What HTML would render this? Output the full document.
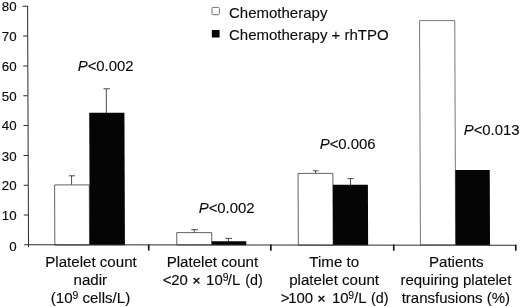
<!DOCTYPE html>
<html><head><meta charset="utf-8">
<style>
html,body{margin:0;padding:0;background:#fff;overflow:hidden;}
svg{display:block;font-family:"Liberation Sans",sans-serif;fill:#0c0c0c;}
.h{stroke:#0c0c0c;stroke-width:0.14;}
.m{stroke:#0c0c0c;stroke-width:0.12;}
.y{stroke:#0c0c0c;stroke-width:0.15;}
</style></head><body>
<svg width="520" height="307" viewBox="0 0 520 307">
<rect width="520" height="307" fill="#fff"/>
<g transform="matrix(1 0 0.0038 1 0 0)">
<!-- white bars -->
<g stroke="#3c3c3c" stroke-width="0.800" fill="#fff">
<rect x="53.900" y="184.900" width="34.700" height="60.200"/>
<rect x="175.840" y="232.600" width="35" height="12.300"/>
<rect x="297.400" y="173.400" width="34.800" height="71.800"/>
<rect x="419.500" y="20.600" width="35.200" height="224.300" stroke="#555"/>
</g>
<!-- error bars -->
<g stroke="#2a2a2a" stroke-width="0.850" fill="none">
<path d="M70.900 184.700V175.800M68.300 175.800H74.300"/>
<path d="M105.950 113V88.800M103.200 88.800H109.600"/>
<path d="M193.350 232.600V229.700M190.400 229.700H197.100"/>
<path d="M227.450 241.500V238.400M224.500 238.400H231.200"/>
<path d="M314.950 173.100V170.800M312.300 170.800H317.600"/>
<path d="M349.800 185V178.600M346.900 178.600H353"/>
</g>
<!-- black bars -->
<g fill="#050505">
<rect x="88.800" y="112.700" width="35.200" height="132.600"/>
<rect x="210.840" y="241.250" width="34.500" height="4"/>
<rect x="332.200" y="184.700" width="35" height="60.600"/>
<rect x="454.700" y="170" width="34.400" height="75.300"/>
</g>
<!-- axes -->
<g stroke="#2c2c2c" stroke-width="1" fill="none">
<line x1="27.580" y1="5.800" x2="27.580" y2="247.200"/>
<line x1="23.200" y1="244.850" x2="515.400" y2="245.200"/>
<line x1="22.500" y1="6.300" x2="27.580" y2="6.300"/>
<line x1="23" y1="36.100" x2="27.580" y2="36.100"/>
<line x1="23" y1="65.900" x2="27.580" y2="65.900"/>
<line x1="23" y1="95.700" x2="27.580" y2="95.700"/>
<line x1="23" y1="125.500" x2="27.580" y2="125.500"/>
<line x1="23" y1="155.400" x2="27.580" y2="155.400"/>
<line x1="23" y1="185.200" x2="27.580" y2="185.200"/>
<line x1="23" y1="215.100" x2="27.580" y2="215.100"/>
</g>
<g stroke="#111" stroke-width="1.600" fill="none">
<line x1="147.800" y1="244.500" x2="147.800" y2="250.500"/>
<line x1="269.950" y1="244.500" x2="269.950" y2="250.700"/>
<line x1="392.800" y1="244.500" x2="392.800" y2="250.700"/>
<line x1="514.800" y1="244.700" x2="514.800" y2="250.700"/>
</g>
</g>
<!-- y labels -->
<g class="y" font-size="13.300" text-anchor="end">
<text x="16.600" y="11">80</text>
<text x="16.600" y="40.900">70</text>
<text x="16.600" y="70.600">60</text>
<text x="16.600" y="100.700">50</text>
<text x="16.600" y="130.200">40</text>
<text x="16.600" y="160.500">30</text>
<text x="16.600" y="189.900">20</text>
<text x="16.600" y="220.100">10</text>
<text x="16.600" y="251.300">0</text>
</g>
<!-- legend -->
<rect x="212" y="7.400" width="7.400" height="7.300" rx="1" fill="#fff" stroke="#777" stroke-width="1"/>
<rect x="211.800" y="30" width="7.800" height="7.500" rx="0.500" fill="#050505"/>
<g class="m" font-size="15">
<text x="229" y="17.800">Chemotherapy</text>
<text x="229" y="39.700">Chemotherapy + rhTPO</text>
</g>
<!-- P values -->
<g class="m" font-size="14.900">
<text x="77.700" y="70.600"><tspan font-style="italic">P</tspan>&lt;0.002</text>
<text x="198.700" y="212.600"><tspan font-style="italic">P</tspan>&lt;0.002</text>
<text x="319.700" y="149"><tspan font-style="italic">P</tspan>&lt;0.006</text>
<text x="463.700" y="135.200"><tspan font-style="italic">P</tspan>&lt;0.013</text>
</g>
<!-- x labels -->
<g class="h" font-size="15.100" text-anchor="middle">
<text x="91" y="266.700">Platelet count</text>
<text x="90.300" y="284.700">nadir</text>
<text x="90.500" y="302.800">(10<tspan font-size="10.400" dy="-3.500">9</tspan><tspan dy="3.500" dx="-0.2"> cells/L)</tspan></text>
<text x="212.400" y="266.700">Platelet count</text>
<text x="162.800" y="284.700" font-size="14.900" text-anchor="start">&lt;<tspan dx="-0.2">20 </tspan><tspan stroke-width="0.45" font-size="13.600" dx="0.5">×</tspan> <tspan dx="1.5">10</tspan><tspan font-size="10.400" dy="-3.800">9</tspan><tspan dy="3.800" dx="-0.7">/L </tspan><tspan dx="1.5" font-size="14.300">(d)</tspan></text>
<text x="334.200" y="266.500">Time to</text>
<text x="334.100" y="285">platelet count</text>
<text x="280.800" y="303.200" font-size="14.900" text-anchor="start">&gt;<tspan dx="-1.2">100 </tspan><tspan stroke-width="0.45" font-size="13.600" dx="0.3">×</tspan> <tspan dx="2.2">10</tspan><tspan font-size="10.400" dy="-3.800" dx="-0.2">9</tspan><tspan dy="3.800" dx="0">/L </tspan><tspan dx="1" font-size="14.300">(d)</tspan></text>
<text x="456.200" y="267">Patients</text>
<text x="455.900" y="285" font-size="15">requiring platelet</text>
<text x="455.900" y="303" font-size="15">transfusions (%)</text>
</g>
</svg>
</body></html>
